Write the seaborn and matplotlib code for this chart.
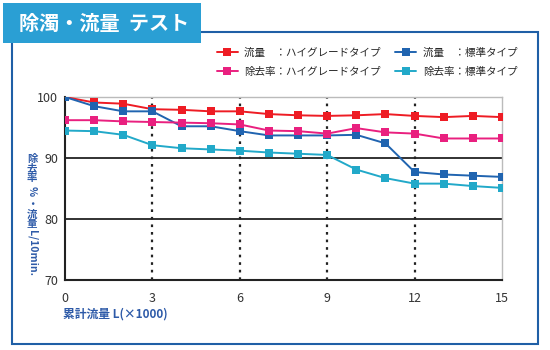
import numpy as np
import pandas as pd
import seaborn as sns
import matplotlib
matplotlib.use("Agg")
import matplotlib.pyplot as plt
from matplotlib.patches import Rectangle
from matplotlib.lines import Line2D

x_vals = list(range(16))
flow_high = [100, 99.1, 98.9, 98.0, 97.9, 97.65, 97.65, 97.2, 97.0, 96.9, 97.0, 97.2, 96.9, 96.7, 96.9, 96.7]
flow_std = [100, 98.5, 97.65, 97.65, 95.2, 95.2, 94.4, 93.7, 93.7, 93.7, 93.8, 92.4, 87.7, 87.3, 87.1, 86.9]
rem_high = [96.2, 96.2, 96.0, 95.9, 95.8, 95.7, 95.5, 94.5, 94.4, 94.0, 94.9, 94.2, 94.0, 93.2, 93.2, 93.2]
rem_std = [94.5, 94.4, 93.8, 92.1, 91.6, 91.4, 91.2, 90.9, 90.7, 90.5, 88.1, 86.7, 85.8, 85.8, 85.4, 85.1]
series_names = ["流量　：ハイグレードタイプ", "流量　：標準タイプ", "除去率：ハイグレードタイプ", "除去率：標準タイプ"]
colors = ["#ee1c24", "#2064b0", "#e9207f", "#22a9c9"]
x_ticks = [0, 3, 6, 9, 12, 15]
y_ticks = [70, 80, 90, 100]
title_text = "除濁・流量  テスト"
xlabel_text = "累計流量 L(×1000)"
# y label pieces: (text, upright?, height in px)
ylabel_parts = [("除\n去\n率", True, 31), ("%", False, 9), ("・\n流\n量", True, 31), ("L/10min.", False, 40)]

sns.set_style("white")
plt.rcParams['font.family'] = ['Noto Sans CJK JP', 'DejaVu Sans']

W, H = 550, 350
fig = plt.figure(figsize=(5.5, 3.5), dpi=100)

def fx(px):
    return px / W

def fy(py):
    return 1 - py / H

# outer frame
fig.patches.append(Rectangle((fx(12), fy(344)), fx(538) - fx(12), fy(32) - fy(344),
                             transform=fig.transFigure, fill=False, edgecolor="#1f5fa6", lw=1.5, zorder=1))
# title box
fig.patches.append(Rectangle((fx(3), fy(43)), fx(201) - fx(3), fy(3) - fy(43),
                             transform=fig.transFigure, facecolor="#2a9fd4", edgecolor="none", zorder=2))
fig.text(fx(19), fy(23), title_text, color="white", fontsize=14.5, fontweight="bold",
         va="center", ha="left", zorder=3)

ax = fig.add_axes([fx(65), fy(280), fx(502) - fx(65), fy(97) - fy(280)])
df = pd.DataFrame({
    "x": x_vals * 4,
    "y": flow_high + flow_std + rem_high + rem_std,
    "s": sum([[n] * 16 for n in series_names], []),
})
sns.lineplot(data=df, x="x", y="y", hue="s", hue_order=series_names, palette=colors,
             marker="s", markersize=5.5, markeredgewidth=0, lw=1.4, ax=ax, legend=False, zorder=5)

ax.set_xlim(0, 15)
ax.set_ylim(70, 100)
ax.set_xticks(x_ticks)
ax.set_yticks(y_ticks)
ax.set_xlabel("")
ax.set_ylabel("")
for v in [80, 90]:
    ax.axhline(v, color="#222222", lw=1.3, zorder=2)
for v in [3, 6, 9, 12]:
    ax.axvline(v, color="#222222", lw=1.6, ls=(0, (1.2, 2.2)), zorder=2)
for s in ["left", "bottom"]:
    ax.spines[s].set_color("#222222")
    ax.spines[s].set_linewidth(1.5)
for s in ["top", "right"]:
    ax.spines[s].set_color("#bbbbbb")
    ax.spines[s].set_linewidth(1.0)
ax.tick_params(axis="both", labelsize=9, colors="#333333", length=0)
ax.tick_params(axis="x", pad=9)
ax.tick_params(axis="y", pad=5)

# vertical y label: CJK upright (stacked), latin rotated
ycur = 153
for txt, upright, h in ylabel_parts:
    fig.text(fx(32), fy(ycur + h / 2), txt, rotation=0 if upright else 270, color="#2d5aa8",
             fontsize=7.5, fontweight="bold", ha="center", va="center", linespacing=0.95,
             multialignment="center")
    ycur += h + 3

fig.text(fx(63), fy(314), xlabel_text, color="#2d5aa8", fontsize=8.5, fontweight="bold",
         ha="left", va="center")

handles = [Line2D([0], [0], color=c, lw=1.4, marker="s", markersize=5.5, markeredgewidth=0) for c in colors]
fig.legend([handles[0], handles[2], handles[1], handles[3]],
           [series_names[0], series_names[2], series_names[1], series_names[3]],
           ncol=2, loc="upper left", bbox_to_anchor=(fx(207), fy(38)), frameon=False,
           fontsize=7.6, handlelength=2.0, columnspacing=1.4, labelspacing=0.9, handletextpad=0.6)

fig.savefig("out.png", dpi=100)
